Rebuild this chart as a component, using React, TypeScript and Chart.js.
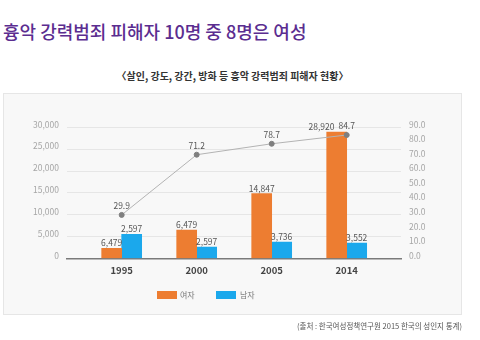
import React, { useEffect, useRef } from "react";
import { Chart, registerables } from "chart.js";

Chart.register(...registerables);

const categories = ["1995", "2000", "2005", "2014"];
// bar heights as drawn in the reference
const female = [2300, 6479, 14847, 28920];
const male = [5500, 2597, 3736, 3552];
// printed labels (as shown in the reference)
const femaleLabels = ["6,479", "6,479", "14,847", "28,920"];
const maleLabels = ["2,597", "2,597", "3,736", "3,552"];
const ratio = [29.9, 71.2, 78.7, 84.7];
const leftTicks = [0, 5000, 10000, 15000, 20000, 25000, 30000];
const rightTicks = [0, 10, 20, 30, 40, 50, 60, 70, 80, 90];

const FONT = "'Noto Sans CJK KR', 'Noto Sans', sans-serif";
const ORANGE = "#ed7d31";
const BLUE = "#1ba8ec";

const labelPlugin = {
  id: "valueLabels",
  afterDatasetsDraw(chart: any) {
    const ctx = chart.ctx;
    ctx.save();
    ctx.font = `8.5px ${FONT}`;
    ctx.fillStyle = "#555";
    ctx.textAlign = "center";
    ctx.textBaseline = "alphabetic";
    const lineMeta = chart.getDatasetMeta(2);
    const lineBoxes: any[] = [];
    lineMeta.data.forEach((pt: any, i: number) => {
      const t = ratio[i].toFixed(1);
      const w = ctx.measureText(t).width;
      const y = pt.y - 6;
      ctx.fillText(t, pt.x, y);
      lineBoxes.push({ l: pt.x - w / 2, r: pt.x + w / 2, t: y - 8, b: y + 1 });
    });
    const drawBar = (di: number, labels: string[]) => {
      const meta = chart.getDatasetMeta(di);
      meta.data.forEach((bar: any, i: number) => {
        const t = labels[i];
        const w = ctx.measureText(t).width;
        let x = bar.x;
        const y = bar.y - 2;
        for (const lb of lineBoxes) {
          const l = x - w / 2, r = x + w / 2;
          if (r > lb.l - 3 && l < lb.r && y > lb.t && y - 8 < lb.b) {
            x = lb.l - 4 - w / 2;
          }
        }
        ctx.fillText(t, x, y);
      });
    };
    drawBar(0, femaleLabels);
    drawBar(1, maleLabels);
    ctx.restore();
  },
};

function ChartBox() {
  const ref = useRef<HTMLCanvasElement>(null);
  useEffect(() => {
    if (!ref.current) return;
    const chart = new Chart(ref.current, {
      type: "bar",
      data: {
        datasets: [
          {
            label: "여자",
            data: female.map((v, i) => ({ x: i, y: v })),
            backgroundColor: ORANGE,
            barThickness: 20,
            yAxisID: "y",
            order: 2,
          },
          {
            label: "남자",
            data: male.map((v, i) => ({ x: i, y: v })),
            backgroundColor: BLUE,
            barThickness: 20,
            yAxisID: "y",
            order: 2,
          },
          {
            type: "line",
            label: "비율",
            data: ratio.map((v, i) => ({ x: i, y: v })),
            borderColor: "#b3b3b3",
            borderWidth: 1,
            pointBackgroundColor: "#7f7f7f",
            pointBorderColor: "#7f7f7f",
            pointRadius: 2.5,
            yAxisID: "y1",
            order: 1,
          } as any,
        ],
      },
      options: {
        responsive: false,
        animation: false,
        layout: { padding: { top: 127.3, bottom: 61.5, left: 0, right: 0 } },
        plugins: { legend: { display: false }, tooltip: { enabled: false } },
        scales: {
          x: {
            type: "linear",
            offset: false,
            min: -0.729,
            max: 3.724,
            afterBuildTicks: (axis: any) => {
              axis.ticks = categories.map((_, i) => ({ value: i }));
            },
            afterFit: (s: any) => {
              s.height = 20;
            },
            grid: { display: false, drawTicks: false, offset: false },
            border: { display: true, color: "#7a7a7a", width: 1.5 },
            ticks: {
              autoSkip: false,
              maxRotation: 0,
              padding: 6,
              color: "#444",
              font: { family: FONT, size: 9.5, weight: "bold" },
              callback: (v: any) => categories[v] ?? "",
            },
          },
          y: {
            position: "left",
            min: 0,
            max: 30000,
            afterBuildTicks: (axis: any) => {
              axis.ticks = leftTicks.map((v) => ({ value: v }));
            },
            afterFit: (s: any) => {
              s.width = 67;
            },
            grid: { color: "#e6e6e6", drawTicks: false, lineWidth: 1 },
            border: { display: false },
            ticks: {
              padding: 8,
              labelOffset: -3,
              color: "#a6a6a6",
              font: { family: FONT, size: 8.5 },
              callback: (v: any) => Number(v).toLocaleString("en-US"),
            },
          },
          y1: {
            position: "right",
            min: 0,
            max: 90,
            afterBuildTicks: (axis: any) => {
              axis.ticks = rightTicks.map((v) => ({ value: v }));
            },
            afterFit: (s: any) => {
              s.width = 79;
            },
            grid: { display: false, drawTicks: false },
            border: { display: false },
            ticks: {
              padding: 8,
              labelOffset: -3,
              color: "#a6a6a6",
              font: { family: FONT, size: 8.5 },
              callback: (v: any) => Number(v).toFixed(1),
            },
          },
        },
      } as any,
      plugins: [labelPlugin],
    });
    return () => chart.destroy();
  }, []);
  return (
    <canvas
      ref={ref}
      width={480}
      height={340}
      style={{ position: "absolute", left: 0, top: 0, width: 480, height: 340 }}
    />
  );
}

export default function App() {
  return (
    <div
      style={{
        position: "fixed",
        left: 0,
        top: 0,
        width: 480,
        height: 340,
        background: "#fff",
        fontFamily: FONT,
        overflow: "hidden",
      }}
    >
      <div
        style={{
          position: "absolute",
          left: 3,
          top: 20,
          fontSize: 18,
          fontWeight: 500,
          color: "#5b2d90",
          whiteSpace: "nowrap",
          lineHeight: "22px",
        }}
      >
        흉악 강력범죄 피해자 10명 중 8명은 여성
      </div>
      <div
        style={{
          position: "absolute",
          left: 3,
          top: 93,
          width: 457,
          height: 220,
          background: "#f8f8f8",
          border: "1px solid #e6e6e6",
        }}
      />
      <div
        style={{
          position: "absolute",
          left: 3,
          width: 459,
          top: 69,
          textAlign: "center",
          fontSize: 10,
          fontWeight: "bold",
          color: "#333",
          lineHeight: "14px",
          whiteSpace: "nowrap",
        }}
      >
        〈살인, 강도, 강간, 방화 등 흉악 강력범죄 피해자 현황〉
      </div>
      <ChartBox />
      <div style={{ position: "absolute", left: 157, top: 291, width: 20, height: 8, background: ORANGE }} />
      <div
        style={{ position: "absolute", left: 180, top: 289, fontSize: 8, color: "#777", lineHeight: "12px" }}
      >
        여자
      </div>
      <div style={{ position: "absolute", left: 216, top: 291, width: 20, height: 8, background: BLUE }} />
      <div
        style={{ position: "absolute", left: 240, top: 289, fontSize: 8, color: "#777", lineHeight: "12px" }}
      >
        남자
      </div>
      <div
        style={{
          position: "absolute",
          right: 18,
          top: 320,
          fontSize: 7.5,
          color: "#555",
          lineHeight: "11px",
          whiteSpace: "nowrap",
        }}
      >
        (출처 : 한국여성정책연구원 2015 한국의 성인지 통계)
      </div>
    </div>
  );
}
